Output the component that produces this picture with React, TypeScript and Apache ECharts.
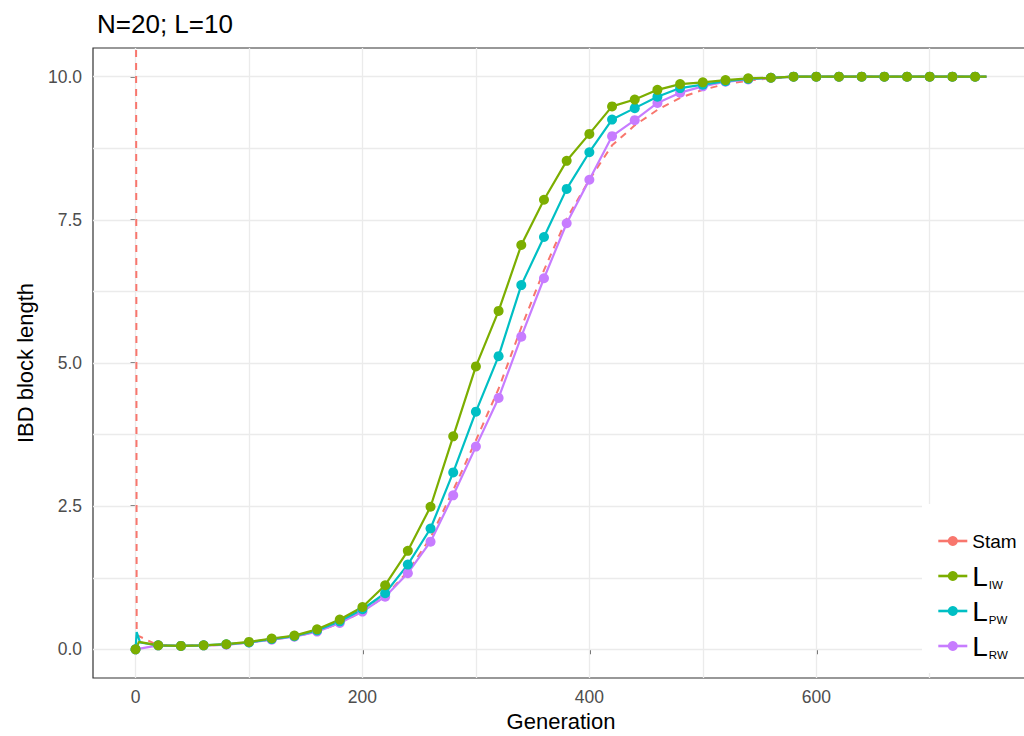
import React, { useEffect, useRef } from 'react';
import * as echarts from 'echarts';

// Generations at which points are drawn
const GENS = [0, 20, 40, 60, 80, 100, 120, 140, 160, 180, 200, 220, 240, 260, 280, 300, 320, 340, 360, 380,
  400, 420, 440, 460, 480, 500, 520, 540, 560, 580, 600, 620, 640, 660, 680, 700, 720, 740];

const STAM = [20, 0.07, 0.06, 0.07, 0.08, 0.12, 0.17, 0.22, 0.31, 0.46, 0.66, 0.93, 1.36, 1.95, 2.78, 3.65, 4.55, 5.62, 6.62, 7.52,
  8.2, 8.8, 9.15, 9.42, 9.63, 9.77, 9.87, 9.93, 9.97, 9.99, 10, 10, 10, 10, 10, 10, 10, 10];
const LIW = [0, 0.07, 0.06, 0.07, 0.09, 0.13, 0.19, 0.24, 0.35, 0.52, 0.74, 1.12, 1.72, 2.49, 3.72, 4.94, 5.91, 7.06, 7.85, 8.53,
  9.0, 9.48, 9.6, 9.77, 9.87, 9.9, 9.94, 9.97, 9.98, 10, 10, 10, 10, 10, 10, 10, 10, 10];
const LPW = [0, 0.07, 0.06, 0.07, 0.09, 0.12, 0.18, 0.23, 0.33, 0.49, 0.7, 0.98, 1.48, 2.11, 3.09, 4.15, 5.12, 6.36, 7.2, 8.04,
  8.68, 9.25, 9.45, 9.65, 9.8, 9.86, 9.92, 9.96, 9.98, 10, 10, 10, 10, 10, 10, 10, 10, 10];
const LRW = [0, 0.07, 0.06, 0.07, 0.08, 0.12, 0.17, 0.22, 0.31, 0.46, 0.66, 0.92, 1.33, 1.88, 2.69, 3.54, 4.39, 5.46, 6.48, 7.44,
  8.2, 8.96, 9.24, 9.54, 9.72, 9.83, 9.91, 9.95, 9.98, 10, 10, 10, 10, 10, 10, 10, 10, 10];

// Extra line vertices without points
const END_GEN = 750;
const STAM_EXTRA_GEN = [1, END_GEN];
const STAM_EXTRA = [0.25, 10];
const LIW_EXTRA_GEN = [3, END_GEN];
const LIW_EXTRA = [0.13, 10];
const LPW_EXTRA_GEN = [1, 4, END_GEN];
const LPW_EXTRA = [0.3, 0.12, 10];
const LRW_EXTRA_GEN = [END_GEN];
const LRW_EXTRA = [10];

const X_TICKS = [0, 200, 400, 600];
const X_GRID = [0, 100, 200, 300, 400, 500, 600, 700];
const Y_TICKS = [0, 2.5, 5, 7.5, 10];
const Y_GRID = [0, 1.25, 2.5, 3.75, 5, 6.25, 7.5, 8.75, 10];

const COLORS = { Stam: '#F8766D', LIW: '#7CAE00', LPW: '#00BFC4', LRW: '#C77CFF' };
const FONT = '"Liberation Sans", Arial, Helvetica, sans-serif';

function buildData(gens: number[], vals: number[], exGens: number[], exVals: number[]) {
  const pts = gens.map((g, i) => ({ value: [g, vals[i]] as number[] }));
  const ex = exGens.map((g, i) => ({ value: [g, exVals[i]] as number[], symbol: 'none' }));
  return [...pts, ...ex].sort((a, b) => a.value[0] - b.value[0]);
}

export default function App() {
  const ref = useRef<HTMLDivElement>(null);
  useEffect(() => {
    if (!ref.current) return;
    const chart = echarts.init(ref.current, null, { renderer: 'svg' });
    const pointSeries = (name: 'LIW' | 'LPW' | 'LRW', data: any[]) => ({
      name,
      type: 'line',
      data,
      symbol: 'circle',
      symbolSize: 10,
      showSymbol: true,
      lineStyle: { color: COLORS[name], width: 2.2 },
      itemStyle: { color: COLORS[name] },
      z: 3,
    });
    chart.setOption({
      animation: false,
      backgroundColor: '#fff',
      textStyle: { fontFamily: FONT },
      title: {
        text: 'N=20; L=10',
        left: 92,
        top: 6,
        textStyle: { fontSize: 26, fontWeight: 'normal', color: '#000', fontFamily: FONT },
      },
      grid: {
        left: 93, top: 48, width: 936, height: 630,
        outerBoundsMode: 'none',
        containLabel: false,
        show: true, borderColor: '#333', borderWidth: 1.2, backgroundColor: 'transparent',
      },
      legend: {
        data: ['Stam', 'LIW', 'LPW', 'LRW'],
        orient: 'vertical',
        left: 922,
        top: 504,
        padding: [22, 12, 12, 15],
        backgroundColor: '#fff',
        itemWidth: 29,
        itemHeight: 12.5,
        itemGap: 5,
        selectedMode: false,
        lineStyle: { type: 'solid', width: 2.6 },
        formatter: (name: string) => (name === 'Stam' ? name : `{L|L}{s|${name.slice(1)}}`),
        textStyle: {
          fontFamily: FONT, fontSize: 19, color: '#000', lineHeight: 30,
          rich: {
            L: { fontFamily: FONT, fontSize: 28, lineHeight: 30, color: '#000' },
            s: { fontFamily: FONT, fontSize: 11.5, lineHeight: 11, color: '#000', verticalAlign: 'bottom', padding: [0, 0, 0, 1] },
          },
        },
      },
      xAxis: {
        type: 'value',
        min: -37.5,
        max: 787.5,
        axisLine: { show: false },
        splitLine: { show: false },
        axisTick: { show: true, customValues: X_TICKS, length: 5, lineStyle: { color: '#333', width: 1.5 } },
        axisLabel: { customValues: X_TICKS, fontSize: 17.5, color: '#4d4d4d', margin: 10, fontFamily: FONT },
        name: 'Generation',
        nameLocation: 'middle',
        nameGap: 30,
        nameTextStyle: { fontSize: 22, color: '#000', fontFamily: FONT },
      },
      yAxis: {
        type: 'value',
        min: -0.5,
        max: 10.5,
        axisLine: { show: false },
        splitLine: { show: false },
        axisTick: { show: true, customValues: Y_TICKS, length: 5, lineStyle: { color: '#333', width: 1.5 } },
        axisLabel: {
          customValues: Y_TICKS, fontSize: 17.5, color: '#4d4d4d', margin: 11, fontFamily: FONT,
          formatter: (v: number) => v.toFixed(1),
        },
        name: 'IBD block length',
        nameLocation: 'middle',
        nameGap: 57,
        nameRotate: 90,
        nameTextStyle: { fontSize: 22, color: '#000', fontFamily: FONT },
      },
      series: [
        {
          name: 'grid',
          type: 'line',
          data: [],
          silent: true,
          markLine: {
            silent: true,
            symbol: 'none',
            z: 1,
            label: { show: false },
            lineStyle: { color: '#ebebeb', type: 'solid', width: 1.3 },
            data: [...X_GRID.map((x) => ({ xAxis: x })), ...Y_GRID.map((y) => ({ yAxis: y }))],
          },
        },
        {
          name: 'Stam',
          type: 'line',
          data: buildData(GENS, STAM, STAM_EXTRA_GEN, STAM_EXTRA),
          symbol: 'circle',
          symbolSize: 10,
          showSymbol: false,
          lineStyle: { color: COLORS.Stam, width: 2, type: [7, 6] },
          itemStyle: { color: COLORS.Stam },
          z: 3,
        },
        pointSeries('LRW', buildData(GENS, LRW, LRW_EXTRA_GEN, LRW_EXTRA)),
        pointSeries('LPW', buildData(GENS, LPW, LPW_EXTRA_GEN, LPW_EXTRA)),
        pointSeries('LIW', buildData(GENS, LIW, LIW_EXTRA_GEN, LIW_EXTRA)),
      ],
    });
    return () => chart.dispose();
  }, []);
  return <div ref={ref} style={{ position: 'fixed', left: 0, top: 0, width: 1024, height: 736 }} />;
}
